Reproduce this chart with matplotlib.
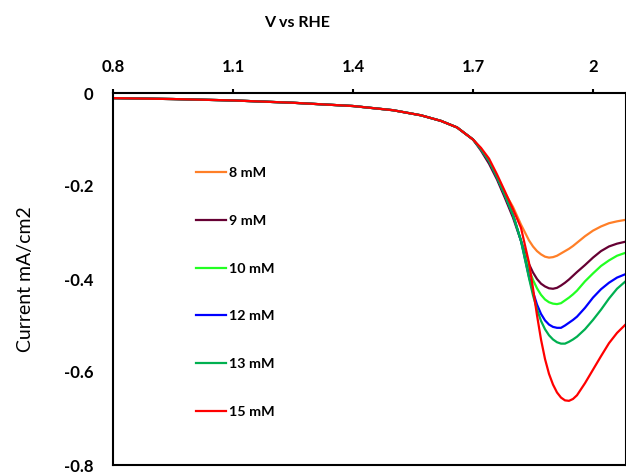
import matplotlib.pyplot as plt

plt.rcParams['font.family'] = ['Lato', 'DejaVu Sans']

# potential (V vs RHE)
volts = [0.80, 0.95, 1.10, 1.25, 1.40, 1.50, 1.57, 1.62, 1.66, 1.70,
         1.72, 1.74, 1.76, 1.78, 1.80, 1.82, 1.84, 1.85, 1.86, 1.87, 1.88, 1.89,
         1.90, 1.91, 1.92, 1.93, 1.94, 1.95, 1.96, 1.98, 2.00, 2.02, 2.04, 2.06, 2.08]

labels = ["8 mM", "9 mM", "10 mM", "12 mM", "13 mM", "15 mM"]
colors = ["#FF7F27", "#660033", "#22FF22", "#0000FF", "#00B050", "#FF0000"]

# shared flat part of the scans, 0.8 - 1.70 V
base = [-0.011, -0.013, -0.016, -0.021, -0.028, -0.037, -0.048, -0.060, -0.074, -0.100]

cur_8 = base + [-0.121, -0.146, -0.180, -0.215, -0.245, -0.283, -0.317, -0.330, -0.340,
                -0.347, -0.352, -0.354, -0.353, -0.350, -0.345, -0.340, -0.335, -0.329,
                -0.322, -0.308, -0.296, -0.287, -0.280, -0.276, -0.273]
cur_9 = base + [-0.124, -0.152, -0.186, -0.226, -0.268, -0.318, -0.368, -0.386, -0.400,
                -0.410, -0.416, -0.420, -0.421, -0.419, -0.414, -0.408, -0.401, -0.393,
                -0.385, -0.370, -0.354, -0.340, -0.330, -0.324, -0.320]
cur_10 = base + [-0.121, -0.146, -0.181, -0.220, -0.262, -0.318, -0.380, -0.402, -0.420,
                 -0.434, -0.444, -0.450, -0.453, -0.454, -0.452, -0.446, -0.440, -0.433,
                 -0.425, -0.405, -0.388, -0.372, -0.360, -0.350, -0.344]
cur_12 = base + [-0.121, -0.146, -0.181, -0.220, -0.262, -0.318, -0.395, -0.428, -0.455,
                 -0.475, -0.489, -0.498, -0.503, -0.505, -0.505, -0.500, -0.494, -0.488,
                 -0.481, -0.462, -0.440, -0.422, -0.408, -0.397, -0.390]
cur_13 = base + [-0.121, -0.146, -0.181, -0.220, -0.262, -0.318, -0.398, -0.435, -0.465,
                 -0.490, -0.508, -0.521, -0.530, -0.536, -0.539, -0.539, -0.535, -0.530,
                 -0.524, -0.508, -0.488, -0.466, -0.442, -0.421, -0.406]
cur_15 = base + [-0.118, -0.141, -0.175, -0.212, -0.250, -0.290, -0.365, -0.420, -0.478,
                 -0.530, -0.572, -0.604, -0.627, -0.644, -0.655, -0.661, -0.662, -0.658,
                 -0.650, -0.624, -0.595, -0.566, -0.538, -0.516, -0.499]

series = [cur_8, cur_9, cur_10, cur_12, cur_13, cur_15]

fig = plt.figure(figsize=(6.26, 4.72), dpi=100)
ax = fig.add_axes([113 / 626, 1 - 465 / 472, 1 - 113 / 626, 372 / 472])

for ys, lab, col in zip(series, labels, colors):
    ax.plot(volts, ys, color=col, lw=1.6, label=lab, solid_joinstyle='round')

ax.set_xlim(0.8, 2.0825)
ax.set_ylim(-0.8, 0)
ax.set_xticks([0.8, 1.1, 1.4, 1.7, 2.0])
ax.set_xticklabels(["0.8", "1.1", "1.4", "1.7", "2"])
ax.set_yticks([0, -0.2, -0.4, -0.6, -0.8])
ax.set_yticklabels(["0", "-0.2", "-0.4", "-0.6", "-0.8"])

ax.xaxis.tick_top()
ax.xaxis.set_label_position('top')
ax.tick_params(axis='x', direction='out', length=3, width=1.5, pad=10, labelsize=12)
ax.tick_params(axis='y', length=0, pad=14, labelsize=12)
for t in ax.get_xticklabels() + ax.get_yticklabels():
    t.set_fontweight('bold')

for s in ax.spines.values():
    s.set_linewidth(1.5)

ax.set_xlabel("V vs RHE", fontsize=11.5, fontweight='bold', va='center')
ax.xaxis.set_label_coords((297 - 113) / 513, (465 - 23) / 372)
ax.set_ylabel("Current mA/cm2", fontsize=14, labelpad=22)

leg = ax.legend(loc='upper left', bbox_to_anchor=(189 / 626, 1 - 160 / 472),
                bbox_transform=fig.transFigure, frameon=False, fontsize=10.3,
                labelspacing=2.5, handlelength=2.1, handletextpad=0.2, borderpad=0)
for t in leg.get_texts():
    t.set_fontweight('bold')

fig.savefig("out.png", dpi=100)
